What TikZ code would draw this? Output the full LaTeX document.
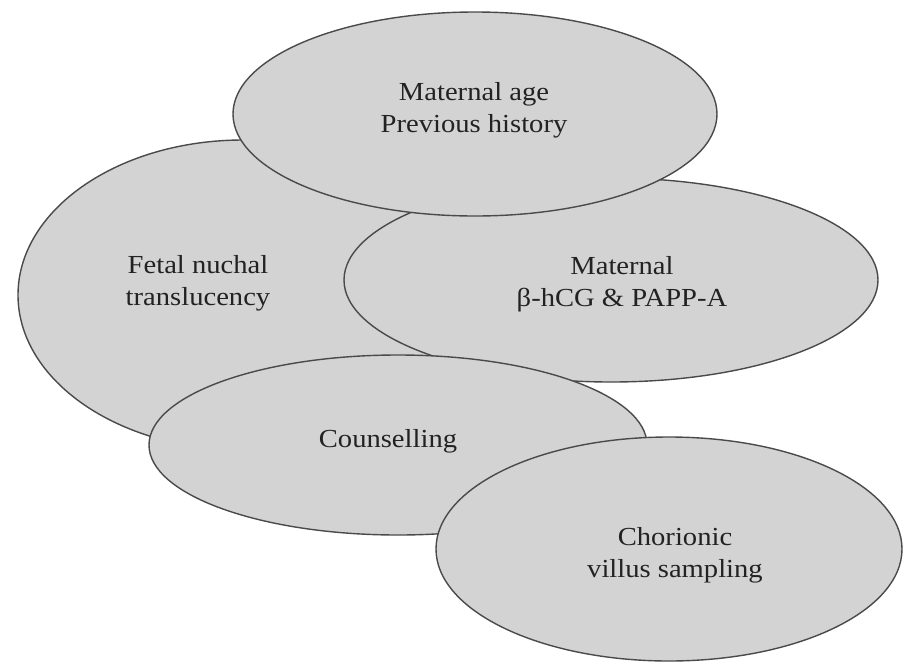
\documentclass[tikz,border=0pt]{standalone}
\usepackage{fontspec}
\setmainfont[FakeStretch=1.1]{Liberation Serif}
\usetikzlibrary{shapes.geometric}
\definecolor{ellfill}{HTML}{D3D3D3}
\definecolor{ellline}{HTML}{4A4A4A}
\definecolor{txt}{HTML}{222222}
\tikzset{
  blob/.style={ellipse, draw=ellline, fill=ellfill, line width=1.4pt, inner sep=0pt},
  lbl/.style={align=center, text=txt, font=\fontsize{26}{32}\selectfont, inner sep=0pt}
}
\begin{document}
\begin{tikzpicture}[x=1pt,y=-1pt]
\useasboundingbox (0,0) rectangle (905,665);
% left
\node[blob, minimum width=450pt, minimum height=310pt] (fetal) at (243,295) {};
% right
\node[blob, minimum width=534pt, minimum height=204pt] (serum) at (611,280) {};
% top
\node[blob, minimum width=484pt, minimum height=204pt] (history) at (475,114) {};
% counselling
\node[blob, minimum width=498pt, minimum height=180pt] (couns) at (398,445) {};
% chorionic
\node[blob, minimum width=466pt, minimum height=224pt] (cvs) at (669,549) {};
% texts
\node[lbl] (historytext) at (474,110) {Maternal age\\Previous history};
\node[lbl] (fetaltext) at (198,283) {Fetal nuchal\\translucency};
\node[lbl] (serumtext) at (622,284) {Maternal\\β-hCG \& PAPP-A};
\node[lbl] (counstext) at (388,441) {Counselling};
\node[lbl] (cvstext) at (675,555) {Chorionic\\villus sampling};
\end{tikzpicture}
\end{document}
